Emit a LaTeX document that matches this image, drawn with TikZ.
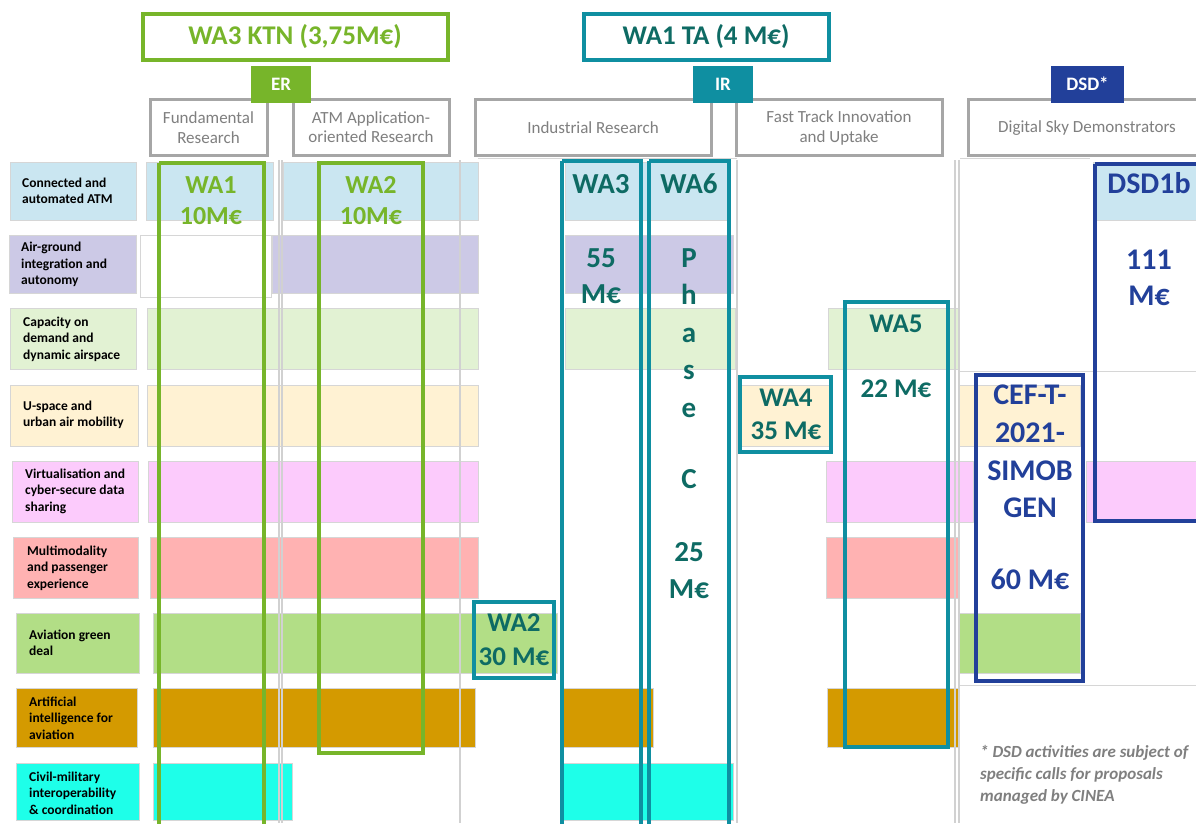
\documentclass[tikz,border=0pt]{standalone}
\usepackage{fontspec}
\setmainfont{Carlito}
\definecolor{cAuto}{HTML}{CAE6F1}
\definecolor{cAir}{HTML}{CCC9E6}
\definecolor{cCap}{HTML}{E2F2D3}
\definecolor{cUsp}{HTML}{FFF2D3}
\definecolor{cVirt}{HTML}{FCCBFC}
\definecolor{cMulti}{HTML}{FFB2B2}
\definecolor{cGreen}{HTML}{B2DE86}
\definecolor{cAI}{HTML}{D49A00}
\definecolor{cCiv}{HTML}{1EFFE9}
\definecolor{kgreen}{HTML}{77B52A}
\definecolor{kteal}{HTML}{0F8FA1}
\definecolor{ktealtxt}{HTML}{0E6B64}
\definecolor{dblue}{HTML}{22409A}
\definecolor{hgray}{HTML}{A6A6A6}
\definecolor{tgray}{HTML}{7F7F7F}
\tikzset{
  band/.style={draw=black!16, line width=0.6pt},
  vline/.style={draw=black!18, line width=1.2pt},
  lbl/.style={anchor=west, align=left, inner sep=0pt, font=\fontsize{13.5}{16.5}\selectfont\bfseries},
  hdr/.style={draw=hgray, line width=3pt, fill=white},
  hdrtext/.style={text=tgray, align=center, inner sep=0pt, font=\fontsize{17}{19.5}\selectfont},
  tag/.style={text=white, inner sep=0pt, anchor=mid, yshift=-4pt, font=\fontsize{19}{22}\selectfont\bfseries},
  gframe/.style={draw=kgreen, line width=4pt},
  tframe/.style={draw=kteal, line width=4pt},
  bframe/.style={draw=dblue, line width=4pt},
  ttl/.style={anchor=mid, inner sep=0pt, yshift=-5pt, font=\fontsize{27}{30}\selectfont\bfseries},
  gtxt/.style={text=kgreen, anchor=mid, inner sep=0pt, yshift=-5pt, font=\fontsize{26}{30}\selectfont\bfseries},
  ttxt/.style={text=ktealtxt, anchor=mid, inner sep=0pt, yshift=-5pt, font=\fontsize{27}{30}\selectfont\bfseries},
  tbig/.style={text=ktealtxt, anchor=mid, inner sep=0pt, yshift=-5pt, font=\fontsize{29}{32}\selectfont\bfseries},
  btxt/.style={text=dblue, anchor=mid, inner sep=0pt, yshift=-5pt, font=\fontsize{30}{32}\selectfont\bfseries},
  note/.style={text=tgray, anchor=west, align=left, inner sep=0pt, font=\fontsize{17}{22}\selectfont\bfseries\itshape},
}
\begin{document}
\begin{tikzpicture}[x=1pt,y=-1pt]
\useasboundingbox (0,0) rectangle (1196,823);
\fill[white] (0,0) rectangle (1196,823);

% ---------- row bands ----------
% row 1
\filldraw[band, fill=cAuto] (10,162) rectangle (136,220);
\filldraw[band, fill=cAuto] (146,162) rectangle (273,220);
\filldraw[band, fill=cAuto] (283,162) rectangle (478,220);
\filldraw[band, fill=cAuto] (565,162) rectangle (730,220);
\filldraw[band, fill=cAuto] (1093,162) rectangle (1196,220);
% row 2
\filldraw[band, fill=cAir] (9,235) rectangle (136,293);
\filldraw[band, fill=white] (140,235) rectangle (271,297);
\filldraw[band, fill=cAir] (272,235) rectangle (478,293);
\filldraw[band, fill=cAir] (565,235) rectangle (733,293);
% row 3
\filldraw[band, fill=cCap] (10,308) rectangle (136,369);
\filldraw[band, fill=cCap] (147,308) rectangle (478,369);
\filldraw[band, fill=cCap] (565,308) rectangle (735,369);
\filldraw[band, fill=cCap] (828,308) rectangle (958,369);
% row 4
\filldraw[band, fill=cUsp] (10,385) rectangle (138,446);
\filldraw[band, fill=cUsp] (147,385) rectangle (478,446);
\filldraw[band, fill=cUsp] (740,385) rectangle (831,446);
\filldraw[band, fill=cUsp] (959,385) rectangle (1080,446);
% row 5
\filldraw[band, fill=cVirt] (12,461) rectangle (138,522);
\filldraw[band, fill=cVirt] (148,461) rectangle (478,522);
\filldraw[band, fill=cVirt] (826,461) rectangle (973,522);
\filldraw[band, fill=cVirt] (1086,461) rectangle (1196,522);
% row 6
\filldraw[band, fill=cMulti] (13,537) rectangle (138,598);
\filldraw[band, fill=cMulti] (150,537) rectangle (478,598);
\filldraw[band, fill=cMulti] (826,537) rectangle (958,598);
% row 7
\filldraw[band, fill=cGreen] (16,613) rectangle (139,673);
\filldraw[band, fill=cGreen] (153,613) rectangle (557,673);
\filldraw[band, fill=cGreen] (959,613) rectangle (1080,673);
% row 8
\filldraw[band, fill=cAI] (16,688) rectangle (137,747);
\filldraw[band, fill=cAI] (153,688) rectangle (475,747);
\filldraw[band, fill=cAI] (562,688) rectangle (653,747);
\filldraw[band, fill=cAI] (827,688) rectangle (958,747);
% row 9
\filldraw[band, fill=cCiv] (16,763) rectangle (139,820);
\filldraw[band, fill=cCiv] (153,763) rectangle (292,820);
\filldraw[band, fill=cCiv] (562,763) rectangle (733,820);

% ---------- faint panel lines ----------
\draw[vline] (279,160) -- (279,823);
\draw[vline] (282,160) -- (282,823);
\draw[vline] (460,160) -- (460,823);
\draw[vline] (737,160) -- (737,823);
\draw[vline] (955,160) -- (955,823);
\draw[vline] (959,160) -- (959,823);
\draw[band] (960,371) -- (1196,371);
\draw[band] (960,685) -- (1196,685);
\draw[band] (478,158) -- (737,158);
\draw[band] (960,158) -- (1090,158);

% ---------- row labels ----------
\node[lbl] (l1) at (22,191) {Connected and\\automated ATM};
\node[lbl] (l2) at (21,264.5) {Air-ground\\integration and\\autonomy};
\node[lbl] (l3) at (23,339) {Capacity on\\demand and\\dynamic airspace};
\node[lbl] (l4) at (23,415) {U-space and\\urban air mobility};
\node[lbl] (l5) at (25,491) {Virtualisation and\\cyber-secure data\\sharing};
\node[lbl] (l6) at (27,568) {Multimodality\\and passenger\\experience};
\node[lbl] (l7) at (29,643) {Aviation green\\deal};
\node[lbl] (l8) at (29,718) {Artificial\\intelligence for\\aviation};
\node[lbl] (l9) at (29,793) {Civil-military\\interoperability\\\& coordination};

% ---------- headers ----------
\draw[draw=kgreen, line width=3.5pt, fill=white] (143,14) rectangle (448,60);
\node[ttl, text=kgreen] (ktn) at (295,37) {WA3 KTN (3,75M€)};
\draw[draw=kteal, line width=3.5pt, fill=white] (584,14) rectangle (829,60);
\node[ttl, text=ktealtxt] (ta) at (706,37) {WA1 TA (4 M€)};

\draw[hdr] (150,99) rectangle (267,155);
\node[hdrtext] (h1) at (208.5,127.5) {Fundamental\\Research};
\draw[hdr] (293,99) rectangle (449,155);
\node[hdrtext] (h2) at (371,127) {ATM Application-\\oriented Research};
\draw[hdr] (475,99) rectangle (711,155);
\node[hdrtext] (h3) at (593,128) {Industrial Research};
\draw[hdr] (736,99) rectangle (942,155);
\node[hdrtext] (h4) at (839,128) {Fast Track Innovation\\and Uptake};
\draw[hdr] (968,99) rectangle (1200,155);
\node[hdrtext] (h5) at (1087,128) {Digital Sky Demonstrators};

\fill[kgreen] (251,66) rectangle (311,103);
\node[tag] (er) at (281,84.5) {ER};
\fill[kteal] (693,66) rectangle (753,103);
\node[tag] (ir) at (723,84.5) {IR};
\fill[dblue] (1051,66) rectangle (1124,103);
\node[tag] (dsd) at (1087.5,84.5) {DSD*};

% ---------- work-area frames ----------
\draw[gframe] (159,163) -- (159,830) (264,830) -- (264,163) -- (159,163);
\draw[gframe] (319,163) rectangle (423,753);
\draw[tframe] (562,161) -- (562,830) (641,830) -- (641,161) -- (562,161);
\draw[tframe] (649,161) -- (649,830) (729,830) -- (729,161) -- (649,161);
\draw[tframe] (474,602) rectangle (554,678);
\draw[tframe] (740,377) rectangle (831,452);
\draw[tframe] (845,302) rectangle (948,747);
\draw[bframe] (976,375) rectangle (1083,681);
\draw[bframe] (1095,164) -- (1095,521) -- (1200,521) (1200,164) -- (1095,164);

% ---------- work-area texts ----------
\node[gtxt] (g1a) at (211,186) {WA1};
\node[gtxt] (g1b) at (211,217) {10M€};
\node[gtxt] (g2a) at (371,186) {WA2};
\node[gtxt] (g2b) at (371,217) {10M€};

\node[tbig] (t3a) at (601,186) {WA3};
\node[tbig] (t3b) at (601,260) {55};
\node[tbig] (t3c) at (601,296) {M€};
\node[tbig] (t6a) at (689,186) {WA6};
\node[tbig] (t6p) at (689,260) {P};
\node[tbig] (t6h) at (689,297) {h};
\node[tbig] (t6c1) at (689,335) {a};
\node[tbig] (t6d) at (689,372) {s};
\node[tbig] (t6e) at (689,410) {e};
\node[tbig] (t6f) at (689,481) {C};
\node[tbig] (t6g) at (689,554) {25};
\node[tbig] (t6m) at (689,591) {M€};

\node[ttxt] (t2a) at (514,624) {WA2};
\node[ttxt] (t2b) at (514,658) {30 M€};
\node[ttxt] (t4a) at (786,399) {WA4};
\node[ttxt] (t4b) at (786,432) {35 M€};
\node[ttxt] (t5a) at (896,325) {WA5};
\node[ttxt] (t5b) at (896,390) {22 M€};

\node[btxt] (c1) at (1030,397) {CEF-T-};
\node[btxt] (c2) at (1030,435) {2021-};
\node[btxt] (c3) at (1030,473) {SIMOB};
\node[btxt] (c4) at (1030,510) {GEN};
\node[btxt] (c5) at (1030,582) {60 M€};
\node[btxt] (d1) at (1149,186) {DSD1b};
\node[btxt] (d2) at (1149,262) {111};
\node[btxt] (d3) at (1149,298) {M€};

\node[note] (fn) at (980,775) {* DSD activities are subject of\\specific calls for proposals\\managed by CINEA};
\end{tikzpicture}
\end{document}
